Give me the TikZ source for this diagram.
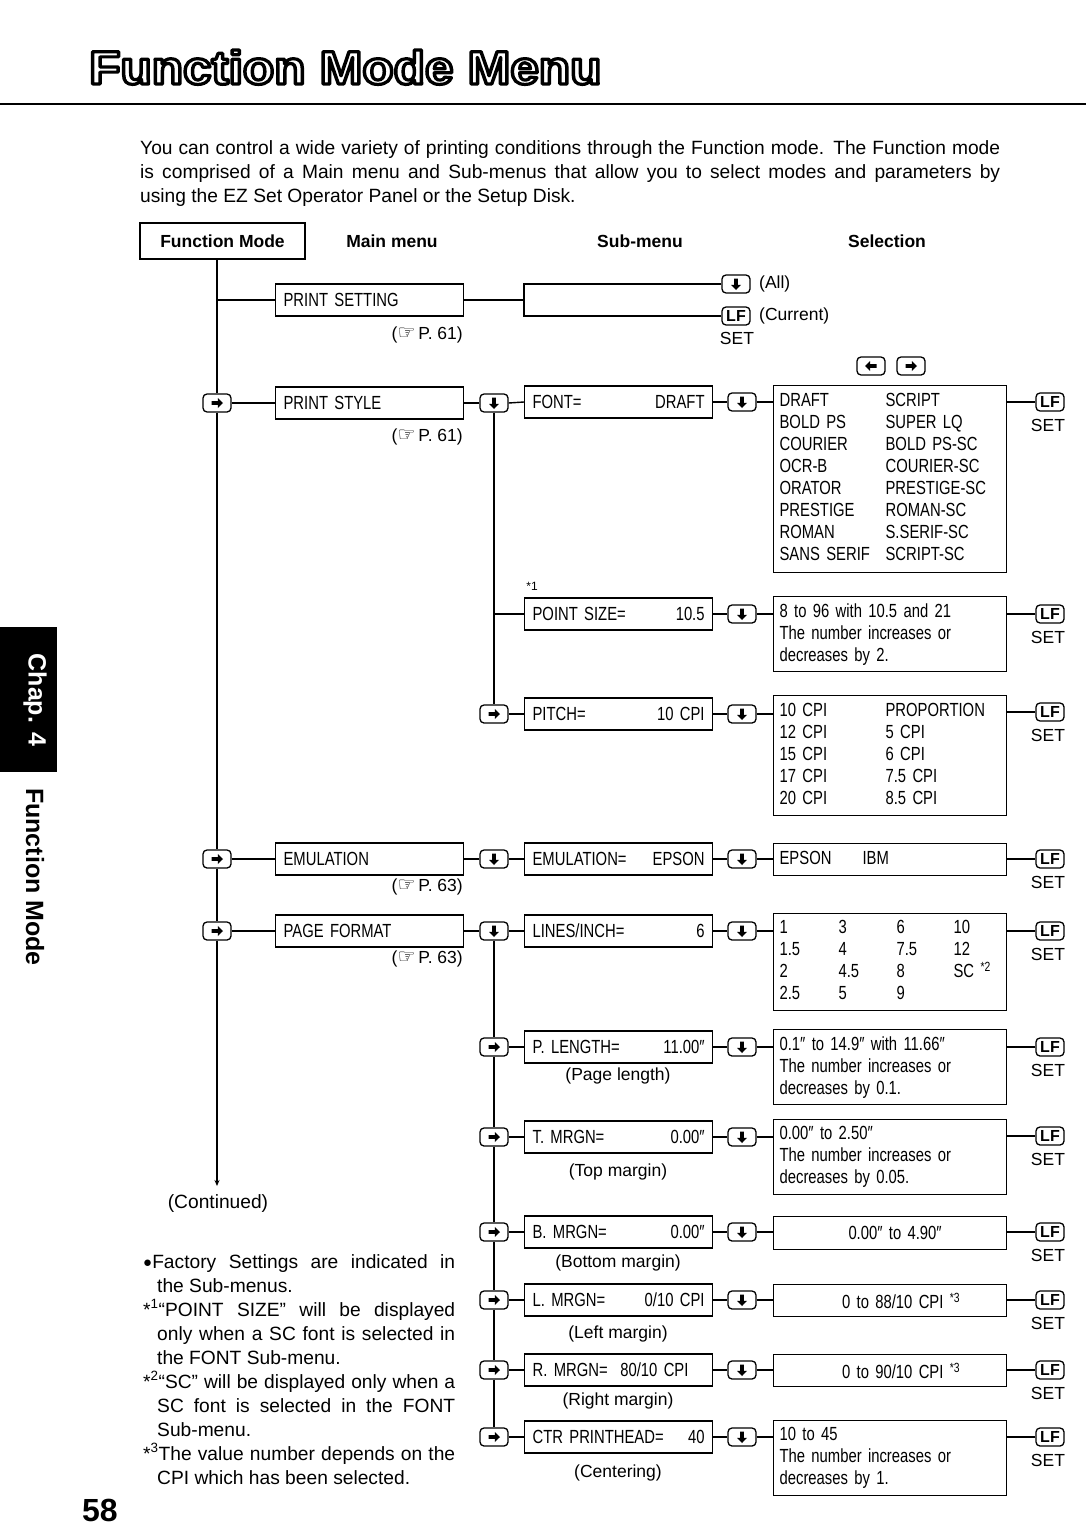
\documentclass[tikz,border=0pt]{standalone}
\usepackage{fontspec}
\setmainfont{Liberation Sans}
\newfontfamily\boxf[FakeStretch=0.78]{Liberation Sans}
\newfontfamily\dejavu{DejaVu Sans}
\usetikzlibrary{calc,arrows.meta}
\newcommand\bx{\boxf\fontsize{19}{22}\selectfont}
\newcommand\bt{\fontsize{19.2}{24}\selectfont}
\newcommand\hd{\bfseries\fontsize{17.5}{20}\selectfont}
\newcommand\sm{\fontsize{17.5}{20}\selectfont}
\newcommand\hand{{\dejavu\fontsize{20}{20}\selectfont\char"261E}}
\newcommand\titlef{\bfseries\fontsize{47}{47}\selectfont}
\newcommand\outlined[1]{{\color{white}\special{pdf:literal direct 2 Tr 3.2 w 1 j 0 G}#1\special{pdf:literal direct 0 Tr}}}
\tikzset{
  ln/.style={line width=1.4pt},
  mbox/.style={draw, line width=1.2pt, minimum width=188pt, minimum height=32pt, text width=172pt, inner xsep=8pt, inner ysep=0pt, font=\bx, anchor=west},
  sel/.style={draw, line width=1.2pt, minimum width=233pt, text width=221pt, inner xsep=6pt, inner ysep=4pt, anchor=north west, font=\bx, align=left},
  keyb/.style={draw, fill=white, rounded corners=4pt, line width=1.3pt, minimum width=28pt, minimum height=18pt, inner sep=0pt},
  kd/.style={keyb, path picture={\fill[black, sharp corners, shift={(path picture bounding box.center)}] (0,6) -- (5,0.8) -- (1.9,0.8) -- (1.9,-5.5) -- (-1.9,-5.5) -- (-1.9,0.8) -- (-5,0.8) -- cycle;}},
  kr/.style={keyb, path picture={\fill[black, sharp corners, shift={(path picture bounding box.center)}] (6,0) -- (0.8,-5) -- (0.8,-1.9) -- (-5.5,-1.9) -- (-5.5,1.9) -- (0.8,1.9) -- (0.8,5) -- cycle;}},
  kl/.style={keyb, path picture={\fill[black, sharp corners, shift={(path picture bounding box.center)}] (-6,0) -- (-0.8,-5) -- (-0.8,-1.9) -- (5.5,-1.9) -- (5.5,1.9) -- (-0.8,1.9) -- (-0.8,5) -- cycle;}},
  klf/.style={keyb, font=\bfseries\fontsize{16}{16}\selectfont},
  setl/.style={font=\sm, inner sep=0pt},
  note/.style={font=\sm, inner sep=0pt},
  captxt/.style={font=\bt, anchor=base west, inner sep=0pt},
}
\begin{document}
\begin{tikzpicture}[x=1pt,y=-1pt]
\useasboundingbox[fill=white] (0,0) rectangle (1086,1528);

% ---------- title ----------
\node[font=\titlef, anchor=base west, inner sep=0pt, xscale=1.09] (title) at (89,84) {\outlined{Function Mode Menu}};
\draw[line width=2pt] (0,104) -- (1086,104);

% ---------- intro ----------
\node[captxt] (i1) at (140,154) {\makebox[860pt][s]{You can control a wide variety of printing conditions through the Function mode. The Function mode}};
\node[captxt] (i2) at (140,178) {\makebox[860pt][s]{is comprised of a Main menu and Sub-menus that allow you to select modes and parameters by}};
\node[captxt] (i3) at (140,202) {using the EZ Set Operator Panel or the Setup Disk.};

% ---------- side tab ----------
\fill (0,627) rectangle (57,772);
\node[rotate=-90, text=white, font=\bfseries\fontsize{25}{25}\selectfont] (chap) at (35,700) {Chap. 4};
\node[rotate=-90, font=\bfseries\fontsize{25}{25}\selectfont] (fmside) at (35,877) {Function Mode};
\node[font=\bfseries\fontsize{32}{32}\selectfont] (pg) at (100,1510) {58};

% ---------- headers ----------
\node[draw, line width=1.5pt, minimum width=165pt, minimum height=36pt, font=\hd] (fm) at (222.5,241) {Function Mode};
\node[font=\hd] (hmain) at (392,241) {Main menu};
\node[font=\hd] (hsub) at (640,241) {Sub-menu};
\node[font=\hd] (hsel) at (887,241) {Selection};

% ---------- main menu ----------
\node[mbox] (m0) at (275,300) {PRINT SETTING};
\node[note, anchor=east] (r0) at (463,335) {(\hand\,P. 61)};
\node[mbox] (m1) at (275,403) {PRINT STYLE};
\node[note, anchor=east] (r1) at (463,437) {(\hand\,P. 61)};
\node[mbox] (m2) at (275,859) {EMULATION};
\node[note, anchor=east] (r2) at (463,887) {(\hand\,P. 63)};
\node[mbox] (m3) at (275,931) {PAGE FORMAT};
\node[note, anchor=east] (r3) at (463,959) {(\hand\,P. 63)};

\node[kr] (kl1) at (217,403) {};
\node[kr] (kl2) at (217,859) {};
\node[kr] (kl3) at (217,931) {};
\coordinate (cont) at (217,1186);
\node[font=\bt] (contl) at (218,1204) {(Continued)};

% ---------- print setting ----------
\coordinate (br) at (524,300);
\node[kd] (pk1) at (736,284) {};
\node[klf] (pk2) at (736,316) {LF};
\node[note, anchor=west] (all) at (759,284) {(All)};
\node[note, anchor=west] (cur) at (759,316) {(Current)};
\node[setl] (pset) at (737,338) {SET};

% ---------- sub menus ----------
\node[kd] (kd1) at (494,403) {};
\node[kd] (kd2) at (494,859) {};
\node[kd] (kd3) at (494,931) {};
\node[kr] (kr1) at (494,714) {};
\node[kr] (kr2) at (494,1047) {};
\node[kr] (kr3) at (494,1137) {};
\node[kr] (kr4) at (494,1232) {};
\node[kr] (kr5) at (494,1300) {};
\node[kr] (kr6) at (494,1370) {};
\node[kr] (kr7) at (494,1437) {};

\node[mbox] (b1) at (524,402) {FONT=\hfill DRAFT};
\node[mbox] (b2) at (524,614) {POINT SIZE=\hfill 10.5};
\node[font=\fontsize{12}{12}\selectfont] (star1) at (532,586) {*1};
\node[mbox] (b3) at (524,714) {PITCH=\hfill 10 CPI};
\node[mbox] (b4) at (524,859) {EMULATION=\hfill EPSON};
\node[mbox] (b5) at (524,931) {LINES/INCH=\hfill 6};
\node[mbox] (b6) at (524,1047) {P.\ LENGTH=\hfill 11.00″};
\node[mbox] (b7) at (524,1137) {T.\ MRGN=\hfill 0.00″};
\node[mbox] (b8) at (524,1232) {B.\ MRGN=\hfill 0.00″};
\node[mbox] (b9) at (524,1300) {L.\ MRGN=\hfill 0/10 CPI};
\node[mbox] (b10) at (524,1370) {R.\ MRGN=\ \ 80/10 CPI};
\node[mbox] (b11) at (524,1437) {CTR PRINTHEAD=\hfill 40};

\node[note] (n6) at (618,1076) {(Page length)};
\node[note] (n7) at (618,1172) {(Top margin)};
\node[note] (n8) at (618,1263) {(Bottom margin)};
\node[note] (n9) at (618,1334) {(Left margin)};
\node[note] (n10) at (618,1401) {(Right margin)};
\node[note] (n11) at (618,1473) {(Centering)};

% second down keys
\node[kd] (ks1) at (742,402) {};
\node[kd] (ks2) at (742,614) {};
\node[kd] (ks3) at (742,714) {};
\node[kd] (ks4) at (742,859) {};
\node[kd] (ks5) at (742,931) {};
\node[kd] (ks6) at (742,1047) {};
\node[kd] (ks7) at (742,1137) {};
\node[kd] (ks8) at (742,1232) {};
\node[kd] (ks9) at (742,1300) {};
\node[kd] (ks10) at (742,1370) {};
\node[kd] (ks11) at (742,1437) {};

% ---------- selections ----------
\node[kl] (kla) at (871,366) {};
\node[kr] (kra) at (911,366) {};
\node[sel, minimum height=187pt] (s1) at (773,385) {\begin{tabular}{@{}p{106pt}@{}l@{}}
DRAFT & SCRIPT\\ BOLD PS & SUPER LQ\\ COURIER & BOLD PS-SC\\ OCR-B & COURIER-SC\\
ORATOR & PRESTIGE-SC\\ PRESTIGE & ROMAN-SC\\ ROMAN & S.SERIF-SC\\ SANS SERIF & SCRIPT-SC\end{tabular}};
\node[sel, minimum height=75pt] (s2) at (773,596) {8 to 96 with 10.5 and 21\\The number increases or\\decreases by 2.};
\node[sel, minimum height=120pt] (s3) at (773,695) {\begin{tabular}{@{}p{106pt}@{}l@{}}
10 CPI & PROPORTION\\ 12 CPI & 5 CPI\\ 15 CPI & 6 CPI\\ 17 CPI & 7.5 CPI\\ 20 CPI & 8.5 CPI\end{tabular}};
\node[sel, minimum height=32pt] (s4) at (773,843) {\begin{tabular}{@{}p{83pt}@{}l@{}}EPSON & IBM\end{tabular}};
\node[sel, minimum height=97pt] (s5) at (773,913) {\begin{tabular}{@{}p{59pt}@{}p{58pt}@{}p{57pt}@{}l@{}}
1 & 3 & 6 & 10\\ 1.5 & 4 & 7.5 & 12\\ 2 & 4.5 & 8 & SC \textsuperscript{*2}\\ 2.5 & 5 & 9 & \end{tabular}};
\node[sel, minimum height=75pt] (s6) at (773,1029) {0.1″ to 14.9″ with 11.66″\\The number increases or\\decreases by 0.1.};
\node[sel, minimum height=75pt] (s7) at (773,1119) {0.00″ to 2.50″\\The number increases or\\decreases by 0.05.};
\node[sel, minimum height=33pt, align=center] (s8) at (773,1216) {\hspace*{10pt}0.00″ to 4.90″};
\node[sel, minimum height=32pt, align=center] (s9) at (773,1284) {\hspace*{22pt}0 to 88/10 CPI \textsuperscript{*3}};
\node[sel, minimum height=32pt, align=center] (s10) at (773,1354) {\hspace*{22pt}0 to 90/10 CPI \textsuperscript{*3}};
\node[sel, minimum height=75pt] (s11) at (773,1420) {10 to 45\\The number increases or\\decreases by 1.};

% LF keys
\foreach \i/\yy in {1/402,2/614,3/712,4/859,5/931,6/1047,7/1136,8/1232,9/1300,10/1370,11/1437}{
  \node[klf] (lf\i) at (1050,\yy) {LF};
  \node[setl] (set\i) at ($(lf\i)+(-2,23)$) {SET};
}

% ---------- connectors ----------
\draw[ln] (fm.south -| kl1) -- (kl1.north);
\draw[ln] (kl1.south) -- (kl2.north);
\draw[ln] (kl2.south) -- (kl3.north);
\draw[ln, -{Stealth[length=6pt,width=5pt]}] (kl3.south) -- (cont);
\draw[ln] (m0.west) -- (m0.west -| kl1);
\draw[ln] (kl1.east) -- (m1.west);
\draw[ln] (kl2.east) -- (m2.west);
\draw[ln] (kl3.east) -- (m3.west);

\draw[ln] (m0.east) -- (br);
\draw[ln] (pk1.west) -| (br) |- (pk2.west);

\draw[ln] (m1.east) -- (kd1.west);
\draw[ln] (m2.east) -- (kd2.west);
\draw[ln] (m3.east) -- (kd3.west);
\draw[ln] (kd1.south) -- (kr1.north);
\draw[ln] (b2.west) -- (b2.west -| kd1);
\draw[ln] (kd3.south) -- (kr2.north);
\draw[ln] (kr2.south) -- (kr3.north);
\draw[ln] (kr3.south) -- (kr4.north);
\draw[ln] (kr4.south) -- (kr5.north);
\draw[ln] (kr5.south) -- (kr6.north);
\draw[ln] (kr6.south) -- (kr7.north);

\draw[ln] (kd1.east) -- (b1.west);
\draw[ln] (kd2.east) -- (b4.west);
\draw[ln] (kd3.east) -- (b5.west);
\foreach \k/\b in {1/3,2/6,3/7,4/8,5/9,6/10,7/11}
  \draw[ln] (kr\k.east) -- (b\b.west);
\foreach \i in {1,...,11}{
  \draw[ln] (b\i.east) -- (ks\i.west);
  \draw[ln] (ks\i.east) -- (ks\i.east -| s\i.west);
  \draw[ln] (lf\i.west) -- (lf\i.west -| s\i.east);
}

% ---------- footnotes ----------
\node[captxt] (f1) at (143,1268) {\makebox[312pt][s]{\raisebox{1pt}{\fontsize{15}{15}\selectfont ●}Factory Settings are indicated in}};
\node[captxt] (f2) at (157,1292) {the Sub-menus.};
\node[captxt] (f3) at (143,1316) {\makebox[312pt][s]{*\textsuperscript{1}“POINT SIZE” will be displayed}};
\node[captxt] (f4) at (157,1340) {\makebox[298pt][s]{only when a SC font is selected in}};
\node[captxt] (f5) at (157,1364) {the FONT Sub-menu.};
\node[captxt] (f6) at (143,1388) {\makebox[312pt][s]{*\textsuperscript{2}“SC” will be displayed only when a}};
\node[captxt] (f7) at (157,1412) {\makebox[298pt][s]{SC font is selected in the FONT}};
\node[captxt] (f8) at (157,1436) {Sub-menu.};
\node[captxt] (f9) at (143,1460) {\makebox[312pt][s]{*\textsuperscript{3}The value number depends on the}};
\node[captxt] (f10) at (157,1484) {CPI which has been selected.};
\end{tikzpicture}
\end{document}
